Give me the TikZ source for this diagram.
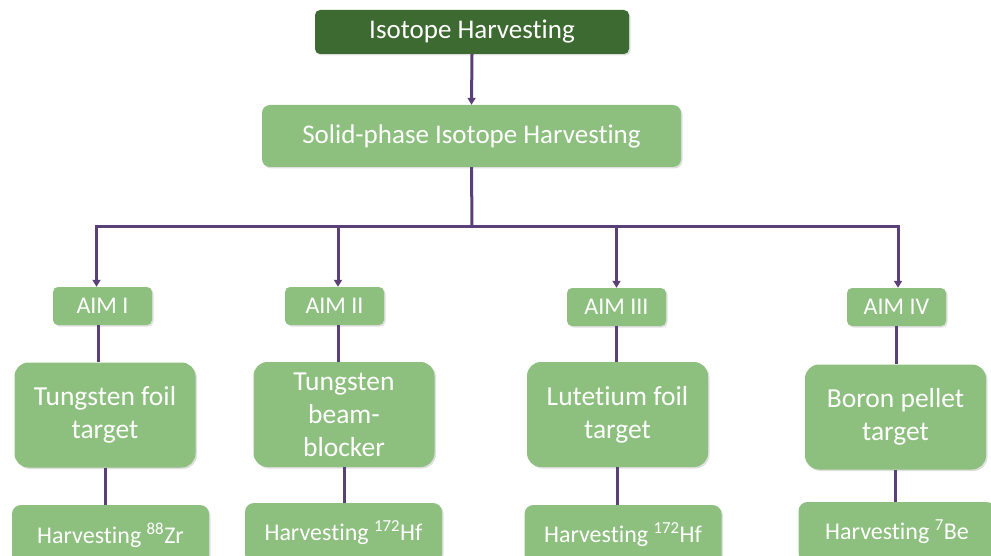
\documentclass[tikz,border=0pt]{standalone}
\usepackage{fontspec}
\setmainfont{Carlito}[Ligatures=NoCommon]
\usetikzlibrary{arrows.meta,shadows}
\definecolor{lgreen}{HTML}{8DBF7E}
\definecolor{dgreen}{HTML}{3D6A30}
\definecolor{conn}{HTML}{5A3F78}
\tikzset{
  box/.style={fill=lgreen, text=white, inner sep=0pt, align=center,
    drop shadow={shadow xshift=1.5pt, shadow yshift=-1.5pt, opacity=0.25}},
  topbox/.style={box, fill=dgreen, rounded corners=5pt, minimum width=314pt, minimum height=44pt, font=\fontsize{27}{32}\selectfont},
  solidbox/.style={box, rounded corners=8pt, minimum width=419pt, minimum height=62pt, font=\fontsize{27}{32}\selectfont},
  aimbox/.style={box, rounded corners=5pt, minimum width=99pt, minimum height=38pt, font=\fontsize{24}{28}\selectfont},
  mainbox/.style={box, rounded corners=14pt, minimum width=181pt, minimum height=105pt, font=\fontsize{27.5}{33}\selectfont},
  botbox/.style={box, rounded corners=9pt, minimum width=197pt, minimum height=60pt, font=\fontsize{24}{28}\selectfont},
  conline/.style={draw=conn, line width=3pt},
  conarrow/.style={conline, -{Triangle[length=7pt,width=8pt]}}
}
\begin{document}
\begin{tikzpicture}[x=1pt,y=-1pt]
\useasboundingbox (0,0) rectangle (991,556);
\clip (0,0) rectangle (991,556);
\node[topbox] (top) at (472,32) {Isotope Harvesting};
\node[solidbox] (solid) at (471.5,136) {Solid-phase Isotope Harvesting};

\node[aimbox] (aim1) at (102.5,306) {AIM I};
\node[aimbox] (aim2) at (334.5,306) {AIM II};
\node[aimbox] (aim3) at (616.5,307) {AIM III};
\node[aimbox] (aim4) at (896.5,307) {AIM IV};

\node[mainbox] (m1) at (105,415) {Tungsten foil\\target};
\node[mainbox] (m2) at (344,414.5) {Tungsten\\beam-\\blocker};
\node[mainbox] (m3) at (617.5,414.5) {Lutetium foil\\target};
\node[mainbox] (m4) at (895.5,417) {Boron pellet\\target};

\node[botbox] (b1) at (110.5,535) {Harvesting \textsuperscript{88}Zr};
\node[botbox] (b2) at (343.5,533) {Harvesting \textsuperscript{172}Hf};
\node[botbox] (b3) at (623,535) {Harvesting \textsuperscript{172}Hf};
\node[botbox] (b4) at (897,532) {Harvesting \textsuperscript{7}Be};

\coordinate (j) at (472,227);
\draw[conarrow] (top.south) -- (solid.north);
\draw[conline] (solid.south) -- (j);
\draw[conarrow] (j) -| ([xshift=-6pt]aim1.north);
\draw[conarrow] (j) -| ([xshift=3.5pt]aim2.north);
\draw[conarrow] (j) -| (aim3.north);
\draw[conarrow] (j) -| ([xshift=1.5pt]aim4.north);

\draw[conline] ([xshift=-4pt]aim1.south) -- ([xshift=-4pt]aim1.south |- m1.north);
\draw[conline] ([xshift=4pt]aim2.south) -- ([xshift=4pt]aim2.south |- m2.north);
\draw[conline] (aim3.south) -- (aim3.south |- m3.north);
\draw[conline] (aim4.south) -- (aim4.south |- m4.north);

\draw[conline] (m1.south) -- (m1.south |- b1.north);
\draw[conline] (m2.south) -- (m2.south |- b2.north);
\draw[conline] (m3.south) -- (m3.south |- b3.north);
\draw[conline] (m4.south) -- (m4.south |- b4.north);
\end{tikzpicture}
\end{document}
